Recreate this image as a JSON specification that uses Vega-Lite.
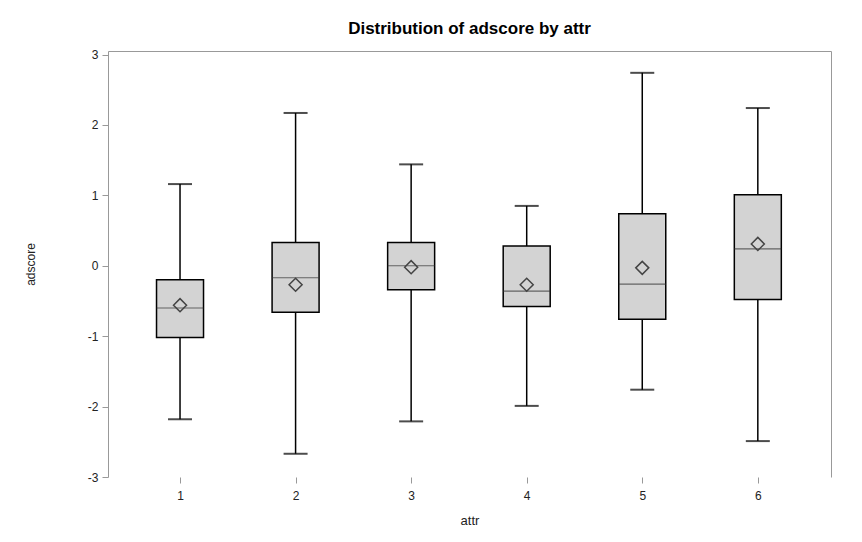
{
  "$schema": "https://vega.github.io/schema/vega-lite/v6.json",
  "width": 723,
  "height": 426,
  "autosize": {"type": "none"},
  "padding": {"left": 108, "top": 51, "right": 31, "bottom": 65},
  "background": "white",
  "title": {"text": "Distribution of adscore by attr", "font": "Liberation Sans", "fontSize": 17, "fontWeight": "bold", "color": "#000000", "offset": 11, "anchor": "middle"},
  "config": {
    "view": {"stroke": null},
    "axis": {"labelFont": "Liberation Sans", "titleFont": "Liberation Sans", "grid": false, "labelColor": "#222222", "titleColor": "#222222", "titleFontWeight": "normal"}
  },
  "data": {"values": [
    {"attr": 1, "lo": -2.18, "q1": -1.02, "med": -0.6, "q3": -0.2, "hi": 1.16, "mean": -0.56},
    {"attr": 2, "lo": -2.67, "q1": -0.66, "med": -0.17, "q3": 0.33, "hi": 2.17, "mean": -0.27},
    {"attr": 3, "lo": -2.21, "q1": -0.34, "med": 0.0, "q3": 0.33, "hi": 1.44, "mean": -0.02},
    {"attr": 4, "lo": -1.99, "q1": -0.58, "med": -0.36, "q3": 0.28, "hi": 0.85, "mean": -0.27},
    {"attr": 5, "lo": -1.76, "q1": -0.76, "med": -0.26, "q3": 0.74, "hi": 2.74, "mean": -0.03},
    {"attr": 6, "lo": -2.49, "q1": -0.48, "med": 0.24, "q3": 1.01, "hi": 2.24, "mean": 0.31}
  ]},
  "resolve": {"axis": {"x": "independent", "y": "independent"}},
  "layer": [
    {
      "mark": {"type": "rule", "color": "#000000", "strokeWidth": 1.5},
      "encoding": {
        "x": {"field": "attr", "type": "quantitative", "scale": {"domain": [0.42, 6.59], "nice": false, "zero": false},
          "axis": {"orient": "bottom", "values": [1, 2, 3, 4, 5, 6], "domain": false, "tickColor": "#999999", "tickSize": 6, "labelFontSize": 12, "labelPadding": 7, "title": "attr", "titleFontSize": 13, "titlePadding": 13}},
        "y": {"field": "lo", "type": "quantitative", "scale": {"domain": [-3, 3.05], "nice": false, "zero": false},
          "axis": {"orient": "left", "values": [-3, -2, -1, 0, 1, 2, 3], "labelExpr": "replace(datum.label, '\u2212', '-')", "domainColor": "#999999", "tickColor": "#999999", "tickSize": 6, "labelFontSize": 12, "labelPadding": 4, "title": "adscore", "titleFontSize": 12, "titleX": -78, "titleY": 213, "titleAngle": -90, "titleAlign": "center", "titleBaseline": "middle"}},
        "y2": {"field": "hi"}
      }
    },
    {
      "mark": {"type": "bar", "fill": "#d3d3d3", "stroke": "#000000", "strokeWidth": 1.5, "size": 47},
      "encoding": {
        "x": {"field": "attr", "type": "quantitative", "scale": {"domain": [0.42, 6.59], "nice": false, "zero": false},
          "axis": {"orient": "top", "labels": false, "ticks": false, "domainColor": "#999999", "title": null}},
        "y": {"field": "q1", "type": "quantitative", "scale": {"domain": [-3, 3.05], "nice": false, "zero": false},
          "axis": {"orient": "right", "labels": false, "ticks": false, "domainColor": "#999999", "title": null}},
        "y2": {"field": "q3"}
      }
    },
    {
      "mark": {"type": "tick", "orient": "horizontal", "color": "#333333", "size": 47, "thickness": 1.2},
      "encoding": {
        "x": {"field": "attr", "type": "quantitative", "scale": {"domain": [0.42, 6.59], "nice": false, "zero": false}, "axis": null},
        "y": {"field": "med", "type": "quantitative", "scale": {"domain": [-3, 3.05], "nice": false, "zero": false}, "axis": null}
      }
    },
    {
      "mark": {"type": "tick", "orient": "horizontal", "color": "#000000", "size": 24, "thickness": 2},
      "encoding": {
        "x": {"field": "attr", "type": "quantitative", "scale": {"domain": [0.42, 6.59], "nice": false, "zero": false}, "axis": null},
        "y": {"field": "lo", "type": "quantitative", "scale": {"domain": [-3, 3.05], "nice": false, "zero": false}, "axis": null}
      }
    },
    {
      "mark": {"type": "tick", "orient": "horizontal", "color": "#000000", "size": 24, "thickness": 2},
      "encoding": {
        "x": {"field": "attr", "type": "quantitative", "scale": {"domain": [0.42, 6.59], "nice": false, "zero": false}, "axis": null},
        "y": {"field": "hi", "type": "quantitative", "scale": {"domain": [-3, 3.05], "nice": false, "zero": false}, "axis": null}
      }
    },
    {
      "mark": {"type": "point", "shape": "diamond", "filled": false, "size": 170, "stroke": "#444444", "strokeWidth": 1.5, "opacity": 1},
      "encoding": {
        "x": {"field": "attr", "type": "quantitative", "scale": {"domain": [0.42, 6.59], "nice": false, "zero": false}, "axis": null},
        "y": {"field": "mean", "type": "quantitative", "scale": {"domain": [-3, 3.05], "nice": false, "zero": false}, "axis": null}
      }
    }
  ]
}
